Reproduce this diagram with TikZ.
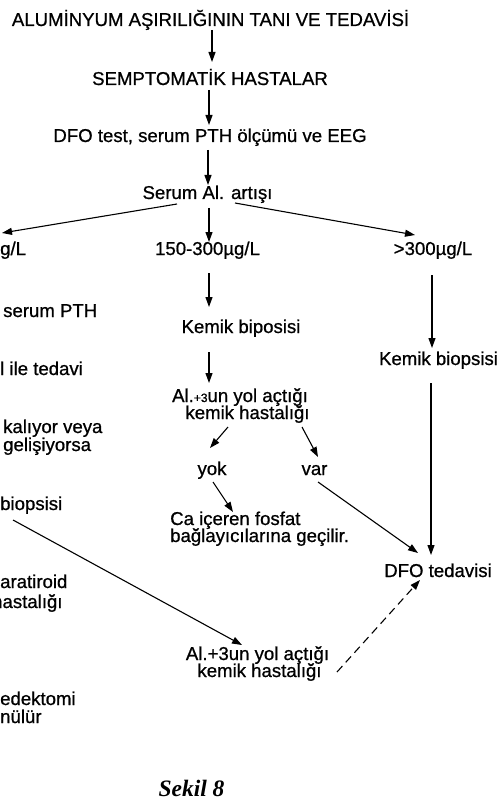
\documentclass[tikz,border=0pt]{standalone}
\usepackage{fontspec}
\setmainfont{Liberation Sans}[FakeBold=0.8]
\newfontfamily\serfont{Liberation Serif}
\usetikzlibrary{arrows.meta,calc}
\begin{document}
\begin{tikzpicture}[x=1pt,y=-1pt,
  lbl/.style={font=\fontsize{18.6}{15.5}\selectfont, inner sep=0pt, text height=13.5pt, text depth=4pt, anchor=base},
  lblw/.style={lbl, anchor=base west},
  arr/.style={-{Triangle[length=10pt,width=7pt]}, line width=1.1pt},
  darr/.style={arr, dash pattern=on 8pt off 5pt}
]
\useasboundingbox (0,0) rectangle (499,802);
\clip (0,0) rectangle (499,802);
% main column
\node[lbl] (title) at (210.5,26) {ALUMİNYUM AŞIRILIĞININ TANI VE TEDAVİSİ};
\node[lbl] (semp) at (210,85) {SEMPTOMATİK HASTALAR};
\node[lbl] (dfo) at (210,142) {DFO test, serum PTH ölçümü ve EEG};
\node[lbl] (serum) at (207.5,199) {Serum Al. artışı};
\node[lblw] (low) at (0,255) {g/L};
\node[lbl] (mid) at (207.5,255) {150-300µg/L};
\node[lbl] (high) at (433,255) {>300µg/L};
\node[lbl] (kb1) at (241,333) {Kemik biposisi};
\node[lbl] (al1a) at (240,402) {Al.{\fontsize{12}{12}\selectfont+3}un yol açtığı};
\node[lbl] (al1b) at (247.5,419) {kemik hastalığı};
\node[lbl] (yok) at (212,475) {yok};
\node[lbl] (var) at (314.5,475) {var};
\node[lblw] (ca1) at (170,525) {Ca içeren fosfat};
\node[lblw] (ca2) at (170,542) {bağlayıcılarına geçilir.};
\node[lbl] (kb2) at (438.5,365) {Kemik biopsisi};
\node[lbl] (dfot) at (438,577) {DFO tedavisi};
\node[lbl] (al2a) at (257.5,660) {Al.+3un yol açtığı};
\node[lbl] (al2b) at (259.5,677) {kemik hastalığı};
% left column (cut off at the page edge)
\node[lblw] (pth) at (3,317) {serum PTH};
\node[lblw] (ilet) at (0,375) {l ile tedavi};
\node[lblw] (kal) at (3,433) {kalıyor veya};
\node[lblw] (gel) at (3,451) {gelişiyorsa};
\node[lblw] (bio) at (0,510) {biopsisi};
\node[lblw] (par) at (0,588) {aratiroid};
\node[lblw] (has) at (-8,608) {hastalığı};
\node[lblw] (dek) at (0,705) {edektomi};
\node[lblw] (dun) at (0,723) {nülür};
\node[font=\serfont\bfseries\itshape\fontsize{23.5}{23.5}\selectfont, inner sep=0pt, anchor=base] (sekil) at (191.5,796) {Sekil 8};
% connectors
\draw[arr] ($(title.base)+(1.5,4)$) -- ($(semp.base)+(2,-23)$);
\draw[arr] ($(semp.base)+(-1,5)$) -- ($(dfo.base)+(-1,-17)$);
\draw[arr] ($(dfo.base)+(-2,8)$) -- ($(serum.base)+(0.5,-14)$);
\draw[arr] ($(serum.base)+(-30.5,5)$) -- ($(low.base west)+(2,-22)$);
\draw[arr] ($(serum.base)+(1.5,9)$) -- ($(mid.base)+(1.5,-13)$);
\draw[arr] ($(serum.base)+(27.5,4)$) -- ($(high.base)+(-18,-20)$);
\draw[arr] ($(mid.base)+(1.5,18)$) -- ($(kb1.base)+(-32,-26)$);
\draw[arr] ($(kb1.base)+(-32,19)$) -- ($(al1a.base)+(-31,-19)$);
\draw[arr] ($(al1b.base)+(-19.5,8)$) -- ($(yok.base)+(-2,-27)$);
\draw[arr] ($(al1b.base)+(54.5,8)$) -- ($(var.base)+(3.5,-18)$);
\draw[arr] ($(yok.base)+(1,7)$) -- ($(ca1.base west)+(63,-13)$);
\draw[arr] ($(var.base)+(3.5,7)$) -- ($(dfot.base)+(-20,-24)$);
\draw[arr] ($(high.base)+(-1,20)$) -- ($(kb2.base)+(-6.5,-17)$);
\draw[arr] ($(kb2.base)+(-7.5,18)$) -- ($(dfot.base)+(-7,-22)$);
\draw[arr] ($(bio.base west)+(13,10)$) -- ($(al2a.base)+(-15.5,-15)$);
\draw[darr] ($(al2b.base)+(77.5,-5)$) -- ($(dfot.base)+(-18,3)$);
\end{tikzpicture}
\end{document}
